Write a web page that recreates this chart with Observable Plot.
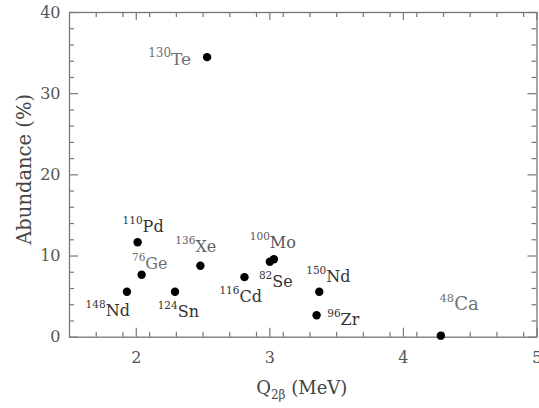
<!DOCTYPE html>
<html><head><meta charset="utf-8">
<script src="https://cdn.jsdelivr.net/npm/d3@7"></script>
<script src="https://cdn.jsdelivr.net/npm/@observablehq/plot@0.6"></script>
<style>
body{margin:0;background:#fff}
svg{display:block;background:#fff}
</style>
</head><body><div id="chart"></div>
<script>
// ---- data ----
const massNumbers = ["130","110","76","136","148","124","100","82","116","150","96","48"];
const elements    = ["Te","Pd","Ge","Xe","Nd","Sn","Mo","Se","Cd","Nd","Zr","Ca"];
const qValues     = [2.53, 2.01, 2.04, 2.48, 1.93, 2.29, 3.03, 3.00, 2.81, 3.37, 3.35, 4.28];
const abundance   = [34.5, 11.7, 7.7, 8.8, 5.6, 5.6, 9.6, 9.3, 7.4, 5.6, 2.7, 0.19];
const xTickLabels = [2, 3, 4, 5];
const yTickLabels = [0, 10, 20, 30, 40];

// ---- label layout (pixel offsets from each point, sizes, colours) ----
const labelDx    = [-36, 5, 3.7, -5, -21.3, 2.7, -4, 2.4, -5, 7, 24, 13.3];
const labelDy    = [8, -10, -5.7, -13.6, 24, 25.5, -11.7, 25, 25, -10, 10, -26];
const labelSize  = [17, 16, 16, 16, 16, 16, 16, 16, 16, 16, 16, 18];
const supSize    = [12, 10.5, 10.5, 10.5, 10.5, 10.5, 10.5, 10.5, 10.5, 10.5, 10.5, 11.5];
const labelColor = ["#707070","#333","#707070","#606060","#333","#333","#555","#333","#333","#333","#333","#707070"];

const W = 539, H = 408, mL = 69, mT = 12, mR = 2.5, mB = 71.3;
const iw = W - mL - mR, ih = H - mT - mB;
const font = "'DejaVu Serif', serif";
const frameColor = "#777";

const points = qValues.map((q, i) => ({q, a: abundance[i], i}));

const xMinor = d3.range(15, 51, 2).map(d => d / 10).filter(d => !xTickLabels.includes(d) && d > 1.5 && d < 5);
const yMinor = d3.range(0, 41, 2).filter(d => !yTickLabels.includes(d));

const labelMarks = points.flatMap(p => [
  Plot.text([p], {x: "q", y: "a", text: () => massNumbers[p.i], textAnchor: "end", lineAnchor: "bottom",
    dx: labelDx[p.i], dy: labelDy[p.i] - 8, fontSize: supSize[p.i], fill: labelColor[p.i]}),
  Plot.text([p], {x: "q", y: "a", text: () => elements[p.i], textAnchor: "start", lineAnchor: "bottom",
    dx: labelDx[p.i], dy: labelDy[p.i], fontSize: labelSize[p.i], fill: labelColor[p.i]})
]);

const chart = Plot.plot({
  width: W, height: H,
  marginLeft: mL, marginTop: mT, marginRight: mR, marginBottom: mB,
  style: {background: "#fff", overflow: "visible"},
  x: {domain: [1.5, 5], axis: null},
  y: {domain: [0, 40], axis: null},
  marks: [
    Plot.ruleX(xMinor, {x: d => d, insetTop: ih - 5, stroke: frameColor, strokeWidth: 1.2}),
    Plot.ruleX(xMinor, {x: d => d, insetBottom: ih - 5, stroke: frameColor, strokeWidth: 1.2}),
    Plot.ruleX(xTickLabels, {x: d => d, insetTop: ih - 9, stroke: frameColor, strokeWidth: 1.2}),
    Plot.ruleX(xTickLabels, {x: d => d, insetBottom: ih - 8, stroke: frameColor, strokeWidth: 1.2}),
    Plot.ruleY(yMinor, {y: d => d, insetRight: iw - 5, stroke: frameColor, strokeWidth: 1.2}),
    Plot.ruleY(yMinor, {y: d => d, insetLeft: iw - 5, stroke: frameColor, strokeWidth: 1.2}),
    Plot.ruleY(yTickLabels, {y: d => d, insetRight: iw - 9, stroke: frameColor, strokeWidth: 1.2}),
    Plot.ruleY(yTickLabels, {y: d => d, insetLeft: iw - 9, stroke: frameColor, strokeWidth: 1.2}),
    Plot.frame({stroke: frameColor, strokeWidth: 1.3}),
    Plot.axisX(xTickLabels, {tickSize: 0, tickPadding: 14, fontSize: 16, fill: "#555", label: null, tickFormat: d => String(d)}),
    Plot.axisY(yTickLabels, {tickSize: 0, tickPadding: 9, fontSize: 16, fill: "#555", label: null, tickFormat: d => String(d)}),
    Plot.text(["Abundance (%)"], {frameAnchor: "left", textAnchor: "middle", lineAnchor: "middle", text: d => d, rotate: -90, dx: -45, dy: -5.5, fontSize: 19.5, fill: "#444"}),
    Plot.text(["Q2β (MeV)"], {frameAnchor: "bottom", textAnchor: "middle", lineAnchor: "middle", text: d => d, dx: -1.5, dy: 51, fontSize: 18, fill: "#444"}),
    Plot.dot(points, {x: "q", y: "a", r: 4.2, fill: "#000", stroke: "none"}),
    ...labelMarks
  ]
});

d3.select(chart).selectAll("text").filter(function () { return this.textContent === "Q2β (MeV)"; })
  .each(function () {
    const t = d3.select(this);
    t.text(null);
    t.append("tspan").text("Q");
    t.append("tspan").attr("font-size", 12).attr("dy", 5).text("2β");
    t.append("tspan").attr("dy", -5).text(" (MeV)");
  });

chart.style.fontFamily = font;
d3.select(chart).selectAll("g, text").each(function () {
  this.setAttribute("font-family", font);
  this.style.setProperty("font-family", font, "important");
});

document.getElementById("chart").appendChild(chart);
</script>
</body></html>
